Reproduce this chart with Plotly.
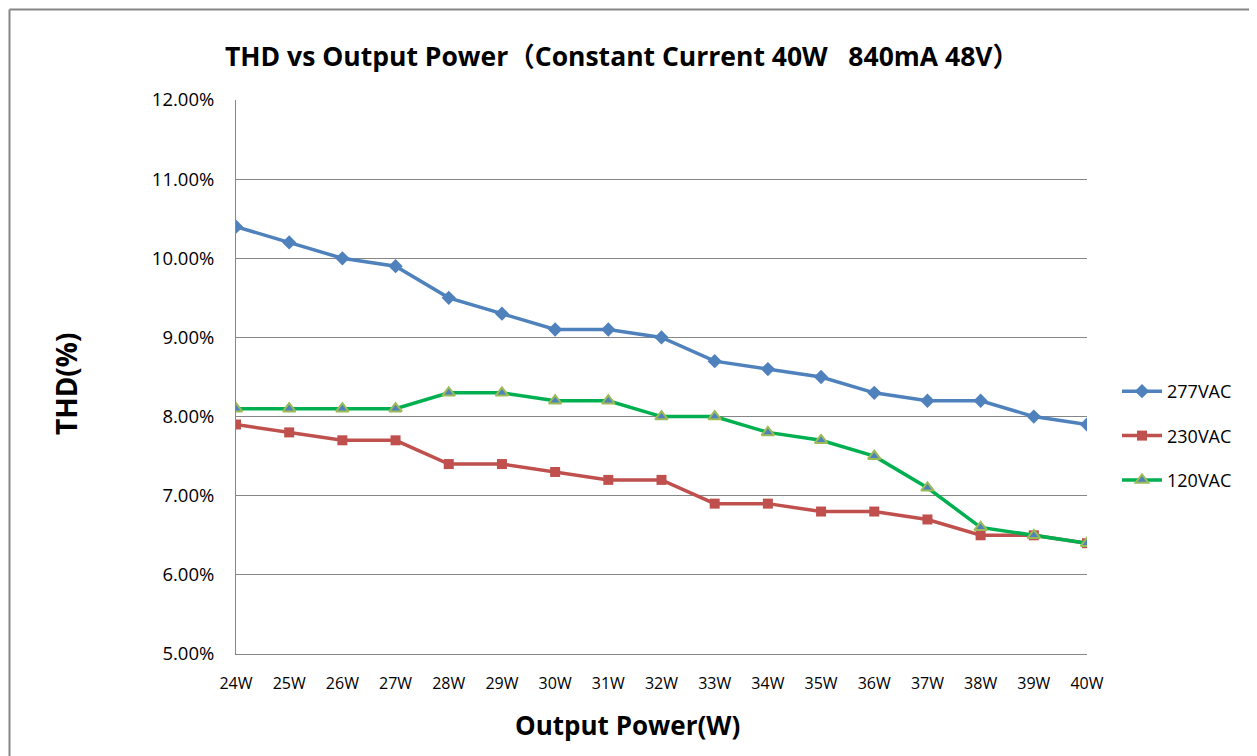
import plotly.graph_objects as go

categories = ["24W", "25W", "26W", "27W", "28W", "29W", "30W", "31W", "32W",
              "33W", "34W", "35W", "36W", "37W", "38W", "39W", "40W"]
thd_277 = [10.4, 10.2, 10.0, 9.9, 9.5, 9.3, 9.1, 9.1, 9.0, 8.7, 8.6, 8.5, 8.3, 8.2, 8.2, 8.0, 7.9]
thd_230 = [7.9, 7.8, 7.7, 7.7, 7.4, 7.4, 7.3, 7.2, 7.2, 6.9, 6.9, 6.8, 6.8, 6.7, 6.5, 6.5, 6.4]
thd_120 = [8.1, 8.1, 8.1, 8.1, 8.3, 8.3, 8.2, 8.2, 8.0, 8.0, 7.8, 7.7, 7.5, 7.1, 6.6, 6.5, 6.4]
y_ticks = [5, 6, 7, 8, 9, 10, 11, 12]
y_tick_labels = ["5.00%", "6.00%", "7.00%", "8.00%", "9.00%", "10.00%", "11.00%", "12.00%"]

FONT = "Open Sans, Noto Sans CJK SC, sans-serif"

fig = go.Figure()
fig.add_trace(go.Scatter(
    x=categories, y=thd_277, name="277VAC", mode="lines+markers", legendgroup="a",
    line=dict(color="#4F81BD", width=3.5),
    marker=dict(symbol="diamond", size=11, color="#4F81BD")))
fig.add_trace(go.Scatter(
    x=categories, y=thd_230, name="230VAC", mode="lines+markers", legendgroup="b",
    line=dict(color="#C0504D", width=3.5),
    marker=dict(symbol="square", size=10, color="#C0504D")))
fig.add_trace(go.Scatter(
    x=categories, y=thd_120, name="120VAC", mode="lines+markers", legendgroup="c",
    line=dict(color="#00B050", width=3.5),
    marker=dict(symbol="triangle-up", size=11, color="#4F81BD",
                line=dict(color="#9BBB59", width=2))))

OFF = 8  # page body margin offset
W, H = 1257, 756
# desired screen positions of the plot area
SL, SR, ST, SB = 236, 1087, 100, 654
L, T = SL - OFF, ST - OFF
pw, ph = SR - SL, SB - ST
R, B = W - L - pw, H - T - ph

def px(x):
    return (x - SL) / pw

def py(y):
    return (SB - y) / ph

fig.update_layout(
    width=W, height=H,
    margin=dict(l=L, r=R, t=T, b=B, autoexpand=False),
    paper_bgcolor="white", plot_bgcolor="white",
    font=dict(family=FONT, color="#000000", size=16),
    title=dict(text="THD vs Output Power（Constant Current 40W   840mA 48V）",
               x=px(622), xref="paper", xanchor="center",
               y=1 - (57 - OFF) / H, yanchor="middle",
               font=dict(family=FONT, size=26.5, color="#000000", weight="bold")),
    showlegend=True,
    legend=dict(x=px(1117), y=py(436), xanchor="left", yanchor="middle",
                xref="paper", yref="paper",
                font=dict(family=FONT, size=18, color="#000000"),
                tracegroupgap=18, itemwidth=40, bgcolor="rgba(0,0,0,0)"),
    xaxis=dict(
        type="category", range=[0, len(categories) - 1],
        showgrid=False, showline=True, linecolor="#868686", linewidth=1,
        ticks="outside", ticklen=15, tickcolor="rgba(0,0,0,0)",
        tickfont=dict(family=FONT, size=16, color="#000000"),
        zeroline=False),
    yaxis=dict(
        range=[5, 12], tickvals=y_ticks, ticktext=y_tick_labels,
        showgrid=True, gridcolor="#868686", gridwidth=1,
        showline=True, linecolor="#868686", linewidth=1,
        ticks="outside", ticklen=17, tickcolor="rgba(0,0,0,0)",
        tickfont=dict(family=FONT, size=18.5, color="#000000"),
        zeroline=False),
    annotations=[
        dict(text="Output Power(W)", xref="paper", yref="paper",
             x=px(627), y=py(725), xanchor="center", yanchor="middle",
             showarrow=False,
             font=dict(family=FONT, size=26, color="#000000", weight="bold")),
        dict(text="THD(%)", xref="paper", yref="paper",
             x=px(66), y=py(384), xanchor="center", yanchor="middle",
             textangle=-90, showarrow=False,
             font=dict(family=FONT, size=28, color="#000000", weight="bold")),
    ],
)

# outer chart border (extends past right and bottom of view)
border = dict(type="line", xref="paper", yref="paper",
              line=dict(color="#868686", width=2))
bx, by = OFF + 1.5, OFF + 1.5
fig.add_shape(**border, x0=px(bx), x1=px(1290), y0=py(by), y1=py(by))
fig.add_shape(**border, x0=px(bx), x1=px(bx), y0=py(by), y1=py(790))

fig.write_html("out.html")
